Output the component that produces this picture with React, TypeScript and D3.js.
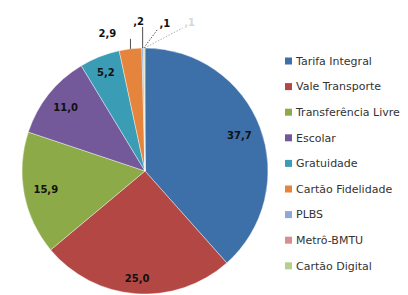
import { useEffect, useRef } from 'react';
import * as d3 from 'd3';

// fare types, clockwise from 12 o'clock
const categories = [
  'Tarifa Integral',
  'Vale Transporte',
  'Transferência Livre',
  'Escolar',
  'Gratuidade',
  'Cartão Fidelidade',
  'PLBS',
  'Metrô-BMTU',
  'Cartão Digital',
];
const shares = [37.7, 25.0, 15.9, 11.0, 5.2, 2.9, 0.2, 0.1, 0.1];
const labels = ['37,7', '25,0', '15,9', '11,0', '5,2', '2,9', ',2', ',1', ',1'];
const colors = [
  '#3d6fa8', '#b24744', '#8cab48', '#73589a', '#3b9cb5',
  '#e5843c', '#8ea9d5', '#d78f8d', '#b7cf8e',
];

interface Slice {
  name: string;
  value: number;
  label: string;
  color: string;
}

const W = 408;
const H = 295;

export default function App() {
  const svgRef = useRef<SVGSVGElement>(null);

  useEffect(() => {
    if (!svgRef.current) return;
    const svg = d3.select(svgRef.current);
    svg.selectAll('*').remove();

    const data: Slice[] = categories.map((name, i) => ({
      name,
      value: shares[i],
      label: labels[i],
      color: colors[i],
    }));

    const cx = 145;
    const cy = 171;
    const r = 123;

    const pie = d3.pie<Slice>().sort(null).value((d) => d.value);
    const arcs = pie(data);
    const arc = d3.arc<d3.PieArcDatum<Slice>>().innerRadius(0).outerRadius(r);

    const g = svg.append('g').attr('transform', `translate(${cx},${cy})`);

    g.selectAll('path')
      .data(arcs)
      .join('path')
      .attr('d', arc)
      .attr('fill', (d) => d.data.color)
      .attr('stroke', '#ffffff')
      .attr('stroke-width', 0.4);

    const font = '"DejaVu Sans", Verdana, sans-serif';

    // inside-end labels: push box out until a corner touches r - pad
    const inside = arcs.filter((a) => a.data.value >= 5);
    inside.forEach((a) => {
      const mid = (a.startAngle + a.endAngle) / 2;
      const dx = Math.sin(mid);
      const dy = -Math.cos(mid);
      const hw = a.data.label.length * 3.4;
      const hh = 6;
      const lim = r - 7;
      let d = 0;
      for (let t = 0; t < lim; t += 0.5) {
        const px = Math.abs(dx) * t + hw;
        const py = Math.abs(dy) * t + hh;
        if (Math.hypot(px, py) > lim) break;
        d = t;
      }
      g.append('text')
        .attr('x', dx * d)
        .attr('y', dy * d)
        .attr('dy', '0.35em')
        .attr('text-anchor', 'middle')
        .attr('font-family', font)
        .attr('font-weight', 'bold')
        .attr('font-size', 10)
        .attr('fill', '#111')
        .text(a.data.label);
    });

    // outside labels for the thin slices near the top
    const outsideShift = [
      [-23, -15],
      [-4, -27],
      [21, -25],
      [45, -26],
    ];
    const outside = arcs.filter((a) => a.data.value < 5);
    outside.forEach((a, k) => {
      const mid = (a.startAngle + a.endAngle) / 2;
      const ox = Math.sin(mid) * r;
      const oy = -Math.cos(mid) * r;
      const lx = ox + outsideShift[k][0];
      const ly = oy + outsideShift[k][1];
      const faint = k === outside.length - 1;
      const hw = a.data.label.length * 3 + 1;
      const ex = k < 2 ? ox : Math.max(lx - hw, Math.min(ox, lx + hw));
      const ey = k === 0 ? ly + 5 : ly + 6;
      g.append('line')
        .attr('x1', ox)
        .attr('y1', oy)
        .attr('x2', ex)
        .attr('y2', ey)
        .attr('stroke', faint ? '#999' : '#222')
        .attr('stroke-width', 0.8)
        .attr('stroke-dasharray', k >= 2 ? '1.5,1.5' : null);
      g.append('text')
        .attr('x', lx)
        .attr('y', ly)
        .attr('dy', '0.35em')
        .attr('text-anchor', 'middle')
        .attr('font-family', font)
        .attr('font-weight', 'bold')
        .attr('font-size', 10)
        .attr('fill', faint ? '#d8d8d8' : '#111')
        .text(a.data.label);
    });

    // legend
    const legend = svg.append('g').attr('transform', 'translate(285,61)');
    data.forEach((d, i) => {
      const row = legend.append('g').attr('transform', `translate(0,${i * 25.6})`);
      row.append('rect')
        .attr('x', 0)
        .attr('y', -3.5)
        .attr('width', 7)
        .attr('height', 7)
        .attr('fill', d.color);
      row.append('text')
        .attr('x', 11)
        .attr('y', 0)
        .attr('dy', '0.35em')
        .attr('font-family', font)
        .attr('font-size', 11)
        .attr('fill', '#333')
        .text(d.name);
    });
  }, []);

  return (
    <svg
      ref={svgRef}
      width={W}
      height={H}
      style={{ position: 'absolute', left: 0, top: 0, background: '#fff' }}
    />
  );
}
